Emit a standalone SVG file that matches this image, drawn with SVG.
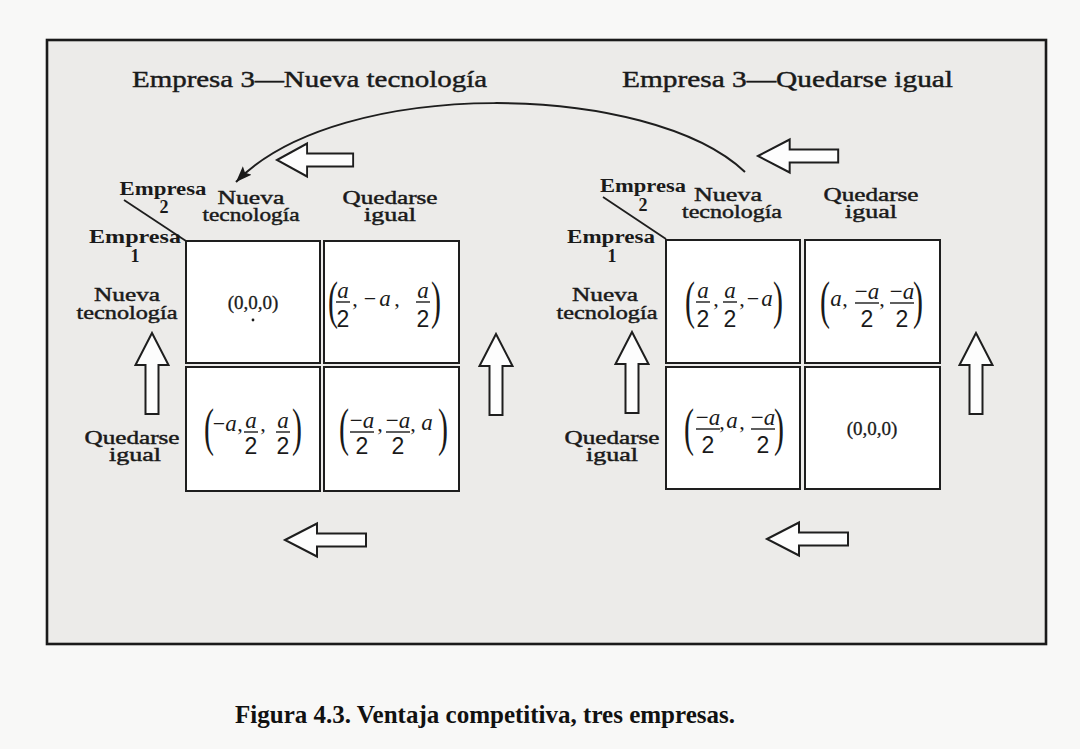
<svg xmlns="http://www.w3.org/2000/svg" width="1080" height="749" viewBox="0 0 1080 749">
  <style>
    .lbl { font-family: "Liberation Serif", "DejaVu Serif", serif; fill: #1a1a1a; }
    .ttl { font-size: 24px; stroke: #1a1a1a; stroke-width: 0.45; }
    .ax { font-size: 18px; font-weight: bold; text-anchor: middle; }
    .axn { font-size: 19px; text-anchor: middle; stroke: #1a1a1a; stroke-width: 0.45; }
    .cell { fill: #ffffff; stroke: #1e1e1e; stroke-width: 2; }
    .diag { stroke: #1e1e1e; stroke-width: 1.8; fill: none; }
    .m { font-family: "Liberation Serif", serif; fill: #1a1a1a; text-anchor: middle; }
    .mi { font-style: italic; font-size: 23px; }
    .mn { font-family: "Liberation Sans", sans-serif; font-size: 23px; }
    .mo { font-size: 22px; }
    .z { font-size: 19px; stroke: #1a1a1a; stroke-width: 0.3; }
    .par { font-family: "Liberation Serif", serif; font-size: 30px; fill: #1a1a1a; }
    .bar { stroke: #1a1a1a; stroke-width: 1.4; }
    .blk { fill: #fdfdfd; stroke: #1e1e1e; stroke-width: 2; stroke-linejoin: miter; }
    .curve { fill: none; stroke: #1e1e1e; stroke-width: 2; }
    .cap { font-family: "Liberation Serif", serif; font-weight: bold; font-size: 25px; fill: #111; }
  </style>
  <defs>
    <!-- hollow block arrow, tip at origin, body toward +x -->
    <path id="blockArrow" class="blk" d="M0,0 L32,-16.5 L32,-6.5 L81,-6.5 L81,6.5 L32,6.5 L32,16.5 Z"/>
    <marker id="head" markerUnits="userSpaceOnUse" markerWidth="18" markerHeight="14" refX="16" refY="6" orient="auto">
      <path d="M0,0 L16,6 L0,12 L3,6 Z" fill="#1a1a1a"/>
    </marker>
  </defs>

  <!-- page and frame -->
  <rect x="0" y="0" width="1080" height="749" fill="#f8f8f7"/>
  <rect x="47" y="40" width="999" height="604" fill="#ecebe9" stroke="#1a1a1a" stroke-width="2.6"/>

  <!-- panel titles -->
  <text class="lbl ttl" x="132" y="87" textLength="355" lengthAdjust="spacingAndGlyphs">Empresa 3—Nueva tecnología</text>
  <text class="lbl ttl" x="622" y="87" textLength="331" lengthAdjust="spacingAndGlyphs">Empresa 3—Quedarse igual</text>

  <!-- connectors: transition arrows -->
  <g id="connectors">
    <path class="curve" d="M745,172 C650,82 340,75 236,182" marker-end="url(#head)"/>
    <use href="#blockArrow" transform="translate(277,160) scale(0.94,1)"/>
    <use href="#blockArrow" transform="translate(758,156) scale(0.99,1)"/>
    <use href="#blockArrow" transform="translate(285,540)"/>
    <use href="#blockArrow" transform="translate(767,539)"/>
    <use href="#blockArrow" transform="translate(152,333) rotate(90)"/>
    <use href="#blockArrow" transform="translate(496,334) rotate(90)"/>
    <use href="#blockArrow" transform="translate(632,332) rotate(90)"/>
    <use href="#blockArrow" transform="translate(976,333) rotate(90)"/>
  </g>

  <!-- left panel: firm 3 adopts new technology -->
  <g id="panel-left">
    <g id="left-axes">
      <line class="diag" x1="124" y1="200" x2="186" y2="241"/>
      <text class="lbl ax" x="163" y="195" textLength="87" lengthAdjust="spacingAndGlyphs">Empresa</text>
      <text class="lbl ax" x="164" y="213">2</text>
      <text class="lbl axn" x="251" y="204" textLength="67" lengthAdjust="spacingAndGlyphs">Nueva</text>
      <text class="lbl axn" x="251" y="221" textLength="97" lengthAdjust="spacingAndGlyphs">tecnología</text>
      <text class="lbl axn" x="390" y="204" textLength="95" lengthAdjust="spacingAndGlyphs">Quedarse</text>
      <text class="lbl axn" x="390" y="221" textLength="52" lengthAdjust="spacingAndGlyphs">igual</text>
      <text class="lbl ax" x="135" y="243" textLength="92" lengthAdjust="spacingAndGlyphs">Empresa</text>
      <text class="lbl ax" x="135" y="262">1</text>
      <text class="lbl axn" x="127" y="301" textLength="66" lengthAdjust="spacingAndGlyphs">Nueva</text>
      <text class="lbl axn" x="127" y="319" textLength="101" lengthAdjust="spacingAndGlyphs">tecnología</text>
      <text class="lbl axn" x="132" y="444" textLength="95" lengthAdjust="spacingAndGlyphs">Quedarse</text>
      <text class="lbl axn" x="135" y="461" textLength="52" lengthAdjust="spacingAndGlyphs">igual</text>
    </g>

    <g id="left-nn">
      <rect class="cell" x="186" y="241" width="134" height="122"/>
      <text class="m z" x="253" y="309">(0,0,0)</text>
      <circle cx="253" cy="320" r="1.4" fill="#1a1a1a"/>
    </g>

    <g id="left-nq">
      <rect class="cell" x="324" y="241" width="135" height="122"/>
      <text class="par" transform="translate(328,318) scale(1,1.75)">(</text>
      <text class="m mi" x="343" y="298">a</text>
      <line class="bar" x1="336" y1="302" x2="350" y2="302"/>
      <text class="m mn" x="343" y="327">2</text>
      <text class="m mo" x="355" y="306">,</text>
      <text class="m mo" x="370" y="306">−</text>
      <text class="m mi" x="385" y="306">a</text>
      <text class="m mo" x="397" y="306">,</text>
      <text class="m mi" x="423" y="298">a</text>
      <line class="bar" x1="416" y1="302" x2="430" y2="302"/>
      <text class="m mn" x="423" y="327">2</text>
      <text class="par" transform="translate(431,318) scale(1,1.75)">)</text>
    </g>

    <g id="left-qn">
      <rect class="cell" x="186" y="367" width="134" height="124"/>
      <text class="par" transform="translate(204,445) scale(1,1.75)">(</text>
      <text class="m mo" x="219" y="431">−</text>
      <text class="m mi" x="231" y="431">a</text>
      <text class="m mo" x="240" y="431">,</text>
      <text class="m mi" x="251" y="428">a</text>
      <line class="bar" x1="244" y1="432" x2="258" y2="432"/>
      <text class="m mn" x="251" y="454">2</text>
      <text class="m mo" x="263" y="431">,</text>
      <text class="m mi" x="283" y="428">a</text>
      <line class="bar" x1="276" y1="432" x2="290" y2="432"/>
      <text class="m mn" x="283" y="454">2</text>
      <text class="par" transform="translate(292,445) scale(1,1.75)">)</text>
    </g>

    <g id="left-qq">
      <rect class="cell" x="324" y="367" width="135" height="124"/>
      <text class="par" transform="translate(339,445) scale(1,1.75)">(</text>
      <text class="m mi" x="362" y="428"><tspan font-style="normal">−</tspan>a</text>
      <line class="bar" x1="350" y1="432" x2="374" y2="432"/>
      <text class="m mn" x="362" y="454">2</text>
      <text class="m mo" x="380" y="431">,</text>
      <text class="m mi" x="398" y="428"><tspan font-style="normal">−</tspan>a</text>
      <line class="bar" x1="386" y1="432" x2="410" y2="432"/>
      <text class="m mn" x="398" y="454">2</text>
      <text class="m mo" x="413" y="431">,</text>
      <text class="m mi" x="427" y="430">a</text>
      <text class="par" transform="translate(438,445) scale(1,1.75)">)</text>
    </g>
  </g>

  <!-- right panel: firm 3 stays the same -->
  <g id="panel-right">
    <g id="right-axes">
      <line class="diag" x1="603" y1="197" x2="666" y2="239"/>
      <text class="lbl ax" x="643" y="192" textLength="86" lengthAdjust="spacingAndGlyphs">Empresa</text>
      <text class="lbl ax" x="643" y="211">2</text>
      <text class="lbl axn" x="728" y="201" textLength="68" lengthAdjust="spacingAndGlyphs">Nueva</text>
      <text class="lbl axn" x="732" y="218" textLength="100" lengthAdjust="spacingAndGlyphs">tecnología</text>
      <text class="lbl axn" x="871" y="201" textLength="95" lengthAdjust="spacingAndGlyphs">Quedarse</text>
      <text class="lbl axn" x="871" y="218" textLength="52" lengthAdjust="spacingAndGlyphs">igual</text>
      <text class="lbl ax" x="611" y="243" textLength="88" lengthAdjust="spacingAndGlyphs">Empresa</text>
      <text class="lbl ax" x="612" y="262">1</text>
      <text class="lbl axn" x="605" y="301" textLength="66" lengthAdjust="spacingAndGlyphs">Nueva</text>
      <text class="lbl axn" x="607" y="319" textLength="101" lengthAdjust="spacingAndGlyphs">tecnología</text>
      <text class="lbl axn" x="612" y="444" textLength="95" lengthAdjust="spacingAndGlyphs">Quedarse</text>
      <text class="lbl axn" x="612" y="461" textLength="52" lengthAdjust="spacingAndGlyphs">igual</text>
    </g>

    <g id="right-nn">
      <rect class="cell" x="666" y="240" width="134" height="123"/>
      <text class="par" transform="translate(685,318) scale(1,1.75)">(</text>
      <text class="m mi" x="703" y="298">a</text>
      <line class="bar" x1="696" y1="302" x2="710" y2="302"/>
      <text class="m mn" x="703" y="327">2</text>
      <text class="m mo" x="716" y="306">,</text>
      <text class="m mi" x="730" y="298">a</text>
      <line class="bar" x1="723" y1="302" x2="737" y2="302"/>
      <text class="m mn" x="730" y="327">2</text>
      <text class="m mo" x="742" y="306">,</text>
      <text class="m mo" x="753" y="306">−</text>
      <text class="m mi" x="767" y="306">a</text>
      <text class="par" transform="translate(773,318) scale(1,1.75)">)</text>
    </g>

    <g id="right-nq">
      <rect class="cell" x="805" y="240" width="135" height="123"/>
      <text class="par" transform="translate(820,318) scale(1,1.75)">(</text>
      <text class="m mi" x="836" y="306">a</text>
      <text class="m mo" x="845" y="306">,</text>
      <text class="m mi" x="867" y="299"><tspan font-style="normal">−</tspan>a</text>
      <line class="bar" x1="855" y1="303" x2="879" y2="303"/>
      <text class="m mn" x="867" y="327">2</text>
      <text class="m mo" x="882" y="306">,</text>
      <text class="m mi" x="902" y="299"><tspan font-style="normal">−</tspan>a</text>
      <line class="bar" x1="890" y1="303" x2="914" y2="303"/>
      <text class="m mn" x="902" y="327">2</text>
      <text class="par" transform="translate(913,318) scale(1,1.75)">)</text>
    </g>

    <g id="right-qn">
      <rect class="cell" x="666" y="367" width="134" height="122"/>
      <text class="par" transform="translate(684,445) scale(1,1.75)">(</text>
      <text class="m mi" x="708" y="425"><tspan font-style="normal">−</tspan>a</text>
      <line class="bar" x1="696" y1="429" x2="720" y2="429"/>
      <text class="m mn" x="708" y="453">2</text>
      <text class="m mo" x="722" y="429">,</text>
      <text class="m mi" x="732" y="428">a</text>
      <text class="m mo" x="742" y="429">,</text>
      <text class="m mi" x="763" y="425"><tspan font-style="normal">−</tspan>a</text>
      <line class="bar" x1="751" y1="429" x2="775" y2="429"/>
      <text class="m mn" x="763" y="453">2</text>
      <text class="par" transform="translate(774,445) scale(1,1.75)">)</text>
    </g>

    <g id="right-qq">
      <rect class="cell" x="805" y="367" width="135" height="122"/>
      <text class="m z" x="872" y="435">(0,0,0)</text>
    </g>
  </g>

  <!-- caption -->
  <text class="cap" x="235" y="723" textLength="500" lengthAdjust="spacingAndGlyphs">Figura 4.3. Ventaja competitiva, tres empresas.</text>
</svg>
